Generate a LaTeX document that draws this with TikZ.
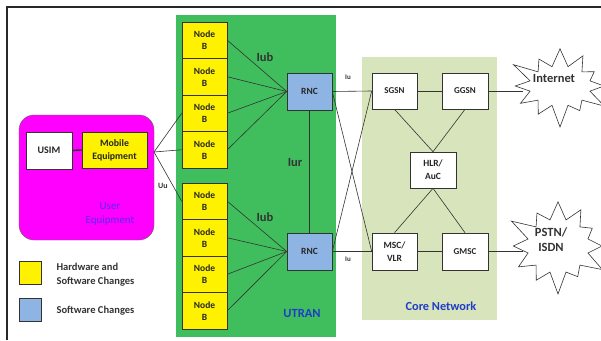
\documentclass[tikz,border=0pt]{standalone}
\usepackage{fontspec}
\setmainfont{Carlito}
\usetikzlibrary{shapes.symbols}
\definecolor{utran}{RGB}{64,190,94}
\definecolor{core}{RGB}{216,228,188}
\definecolor{sw}{RGB}{142,180,227}
\definecolor{uefill}{RGB}{255,0,255}
\definecolor{uetxt}{RGB}{90,40,240}
\definecolor{bluetxt}{RGB}{30,60,200}
\definecolor{frame}{RGB}{40,40,40}
\begin{document}
\begin{tikzpicture}[x=1pt,y=-1pt,
  box/.style={draw=black!80, line width=0.6pt, align=center, inner sep=0pt,
    font=\bfseries\fontsize{9}{10.5}\selectfont, text=black!85},
  nodeb/.style={box, fill=yellow, minimum width=45pt, minimum height=36.5pt,
    font=\bfseries\fontsize{9.5}{12}\selectfont},
  bluebox/.style={box, fill=sw, minimum width=45pt, minimum height=37pt,
    font=\bfseries\fontsize{9.5}{11}\selectfont},
  whitebox/.style={box, fill=white, minimum width=45pt, minimum height=36pt},
  link/.style={draw=black!80, line width=0.6pt},
  lbl/.style={font=\bfseries\fontsize{12.5}{14}\selectfont, text=black!80},
  small/.style={font=\bfseries\fontsize{7}{8}\selectfont, text=black!80},
  burst/.style={starburst, draw=black!80, fill=white, line width=0.6pt,
    starburst points=12, starburst point height=24pt},
  bursttxt/.style={font=\bfseries\fontsize{12.5}{15}\selectfont, align=center, text=black!80},
  legtxt/.style={font=\bfseries\fontsize{10.5}{14}\selectfont, align=left, anchor=west, text=black!80}
]
\useasboundingbox (0,0) rectangle (601,340);
\clip (0,0) rectangle (601,340);
\fill[white] (0,0) rectangle (601,340);
% frame
\draw[frame, line width=1.5pt] (7,340) -- (7,7) -- (601,7);

% regions
\node[fill=utran, minimum width=160pt, minimum height=322pt, inner sep=0] (utranbg) at (256,176) {};
\node[fill=core, minimum width=135pt, minimum height=263pt, inner sep=0] (corebg) at (429.5,188.5) {};

% User equipment
\node[draw=black!60, fill=uefill, rounded corners=15pt, minimum width=135pt, minimum height=125pt, inner sep=0] (ue) at (86.5,177.5) {};
\node[box, fill=white, minimum width=46pt, minimum height=37pt, font=\bfseries\fontsize{10}{11}\selectfont] (usim) at (49,150.5) {USIM};
\node[box, fill=yellow, minimum width=65pt, minimum height=36pt, font=\bfseries\fontsize{9.8}{13}\selectfont] (me) at (114.5,150) {Mobile\\Equipment};
\draw[black!80, line width=1.6pt] (usim.east) -- (me.west);
\node[font=\fontsize{11}{14}\selectfont, text=uetxt, align=center] (uetext) at (110,214) {User\\Equipment};
\coordinate (ueout) at (154,152);

% Node B
\foreach \i/\y in {1/40.25,2/76.75,3/113.25,4/149.75,5/201.25,6/237.75,7/274.25,8/310.75}
  \node[nodeb] (nb\i) at (204.5,\y) {Node\\B};

% RNC
\node[bluebox] (rnc1) at (309.5,91.5) {RNC};
\node[bluebox] (rnc2) at (309.5,251.5) {RNC};

% core boxes
\node[whitebox] (sgsn) at (394.5,91) {SGSN};
\node[whitebox, minimum width=46pt] (ggsn) at (465,91) {GGSN};
\node[whitebox, minimum width=46pt, font=\bfseries\fontsize{9.5}{13}\selectfont] (hlr) at (433,170) {HLR/\\AuC};
\node[whitebox, minimum height=37pt, font=\bfseries\fontsize{9.5}{13}\selectfont] (msc) at (394.5,251.5) {MSC/\\VLR};
\node[whitebox, minimum width=46pt, minimum height=37pt] (gmsc) at (465,251.5) {GMSC};

% bursts
\node[burst, minimum width=110pt, minimum height=88pt] (inet) at (560,86) {};
\node[bursttxt] (inettxt) at (554,78) {Internet};
\node[burst, minimum width=110pt, minimum height=102pt] (pstn) at (558,246) {};
\node[bursttxt] (pstntxt) at (551,240) {PSTN/\\ISDN};
\coordinate (inetin) at (523,91);
\coordinate (pstnin) at (523,251.5);

% links UE - Node B
\foreach \i in {3,4,5} \draw[link] (ueout) -- (nb\i.west);
\node[small, font=\bfseries\fontsize{8}{9}\selectfont] (uu) at (163,186) {Uu};

% Iub
\foreach \i in {1,2,3,4} \draw[link] (nb\i.east) -- (rnc1.west);
\foreach \i in {5,6,7,8} \draw[link] (nb\i.east) -- (rnc2.west);
\node[lbl] (iub1) at (265,57) {Iub};
\node[lbl] (iub2) at (265,217) {Iub};
% Iur
\draw[link] (rnc1.south) -- (rnc2.north);
\node[lbl] (iur) at (295,162) {Iur};
\node[lbl, text=bluetxt] (utrantxt) at (302,313) {UTRAN};

% Iu
\draw[link] (rnc1.east) -- (sgsn.west);
\draw[link] (rnc1.east) -- (msc.west);
\draw[link] (rnc2.east) -- (sgsn.west);
\draw[link] (rnc2.east) -- (msc.west);
\node[small] (iu1) at (348,77) {Iu};
\node[small] (iu2) at (348,259) {Iu};

% core links
\draw[link] (sgsn) -- (ggsn);
\draw[link] (msc) -- (gmsc);
\draw[link] (sgsn.south) -- (hlr.north);
\draw[link] (ggsn.south) -- (hlr.north);
\draw[link] (hlr.south) -- (msc.north);
\draw[link] (hlr.south) -- (gmsc.north);
\draw[link] (ggsn.east) -- (inetin);
\draw[link] (gmsc.east) -- (pstnin);
\node[font=\bfseries\fontsize{12.3}{14}\selectfont, text=bluetxt] (coretxt) at (441,306) {Core Network};

% legend
\node[draw=black!80, fill=yellow, minimum width=22pt, minimum height=23pt, inner sep=0] (leg1) at (30,272.5) {};
\node[draw=black!80, fill=sw, minimum width=22pt, minimum height=23pt, inner sep=0] (leg2) at (30,309.5) {};
\node[legtxt] (leg1t) at (53,274.5) {Hardware and\\Software Changes};
\node[legtxt] (leg2t) at (53,311) {Software Changes};
\end{tikzpicture}
\end{document}
